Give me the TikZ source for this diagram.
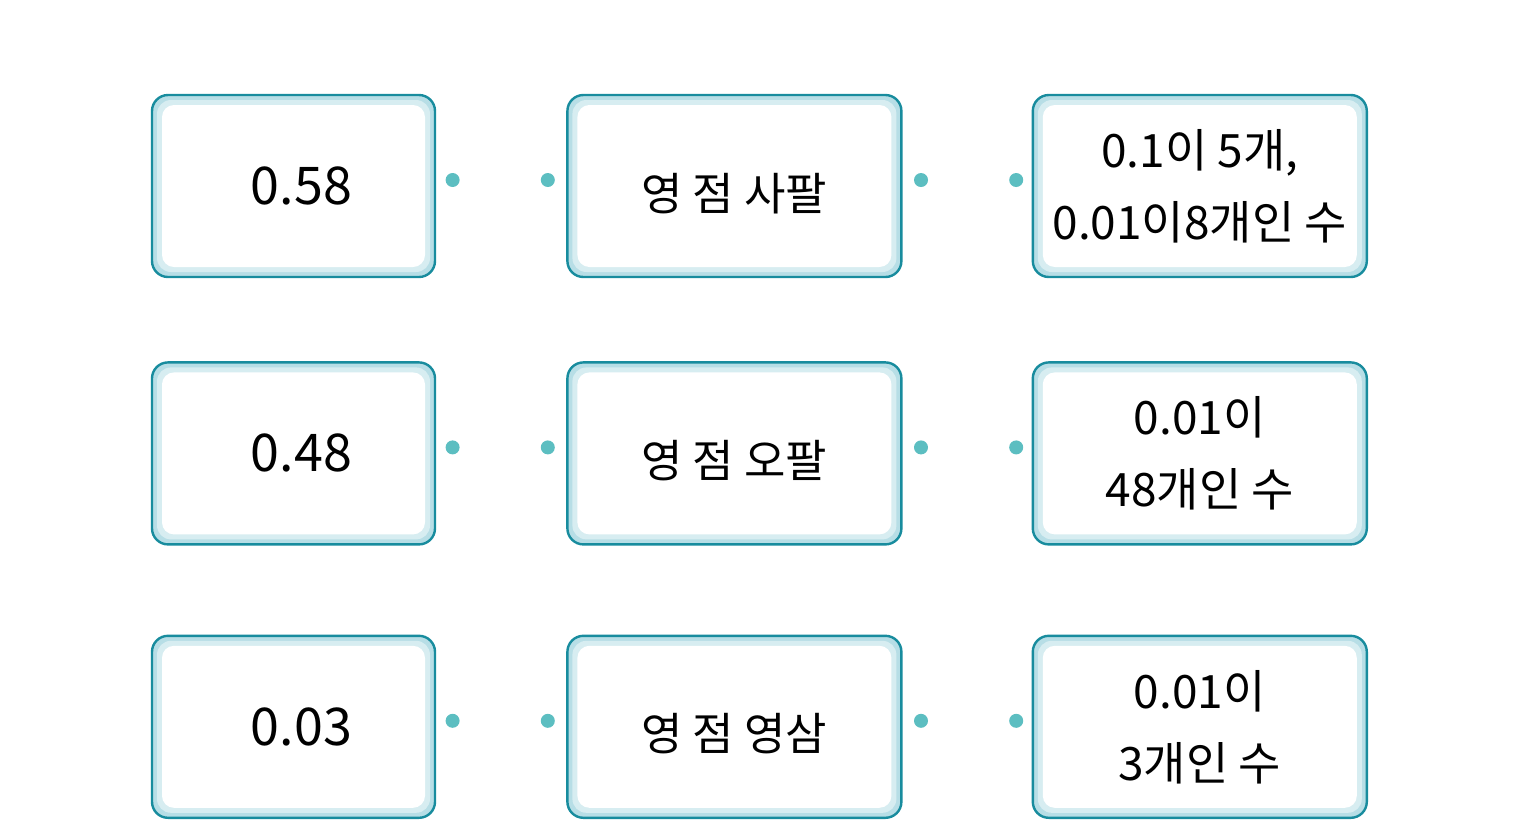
\documentclass[tikz,border=0pt]{standalone}
\usepackage{fontspec}
\setmainfont{Noto Sans CJK KR}
\usetikzlibrary{positioning}
\definecolor{boxline}{RGB}{24,140,158}
\definecolor{boxglow}{RGB}{183,222,230}
\definecolor{dotcol}{RGB}{92,190,193}

\begin{document}
\begin{tikzpicture}[x=0.5pt,y=-0.5pt,
    card/.style={draw=boxline,line width=1.2pt,rounded corners=8pt,fill=boxglow,minimum height=91pt,align=center,
      path picture={
        \fill[boxglow!55,rounded corners=7pt] ([shift={(2.5pt,-2.5pt)}]path picture bounding box.north west) rectangle ([shift={(-2.5pt,2.5pt)}]path picture bounding box.south east);
        \fill[white,rounded corners=6pt] ([shift={(5pt,-5pt)}]path picture bounding box.north west) rectangle ([shift={(-5pt,5pt)}]path picture bounding box.south east);}},
    numcard/.style={card,minimum width=141.5pt,font=\fontsize{26}{30}\selectfont,execute at begin node={\hspace*{8pt}}},
    wordcard/.style={card,minimum width=167pt,font=\fontsize{22.5}{28}\selectfont,text height=27pt,text depth=3pt},
    countcard/.style={card,minimum width=167pt,font=\fontsize{23}{36}\selectfont},
    dot/.style={circle,fill=dotcol,inner sep=0pt,minimum size=7pt,yshift=3pt}]
    \useasboundingbox (0,0) rectangle (1527,832);
    % left column
    \node[numcard] (n1) at (293.5,186) {0.58};
    \node[numcard,below=41.5pt of n1] (n2) {0.48};
    \node[numcard,below=44.5pt of n2] (n3) {0.03};
    % middle column
    \node[wordcard,right=65pt of n1] (w1) {영 점 사팔};
    \node[wordcard,right=65pt of n2] (w2) {영 점 오팔};
    \node[wordcard,right=65pt of n3] (w3) {영 점 영삼};
    % right column
    \node[countcard,right=64.5pt of w1] (c1) {0.1이 5개,\\0.01이8개인 수};
    \node[countcard,right=64.5pt of w2] (c2) {0.01이\\48개인 수};
    \node[countcard,right=64.5pt of w3] (c3) {0.01이\\3개인 수};
    % dots
    \foreach \r in {1,2,3}{
      \node[dot,right=4.5pt of n\r] (a\r) {};
      \node[dot,left=5.5pt of w\r] (b\r) {};
      \node[dot,right=5.5pt of w\r] (p\r) {};
      \node[dot,left=4pt of c\r] (q\r) {};
    }
\end{tikzpicture}
\end{document}
